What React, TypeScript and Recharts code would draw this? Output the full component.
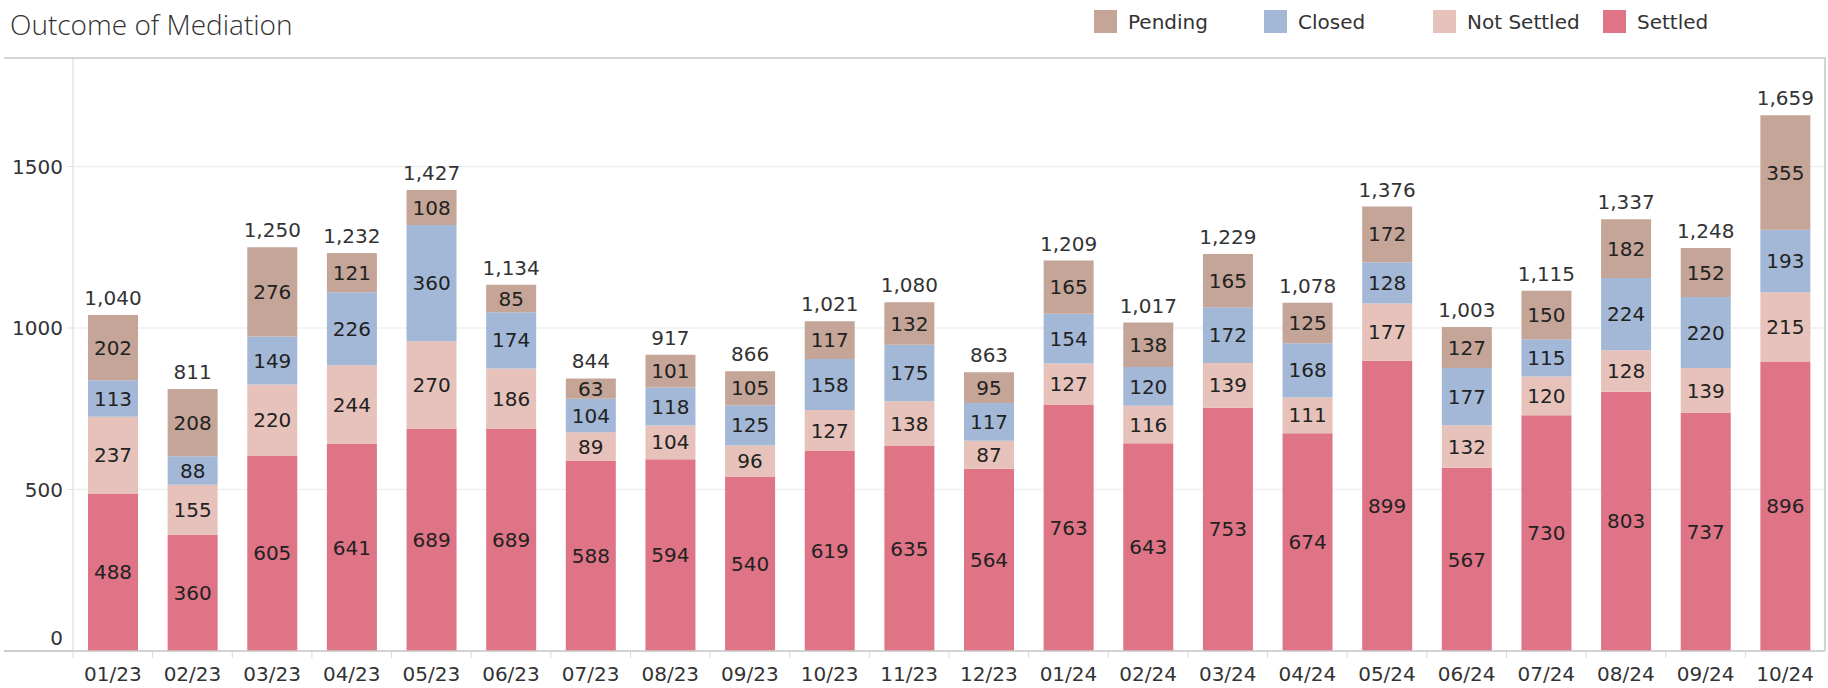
import React from 'react';
import { BarChart, Bar, XAxis, YAxis, CartesianGrid, LabelList } from 'recharts';

const months = ['01/23', '02/23', '03/23', '04/23', '05/23', '06/23', '07/23', '08/23', '09/23', '10/23', '11/23', '12/23',
  '01/24', '02/24', '03/24', '04/24', '05/24', '06/24', '07/24', '08/24', '09/24', '10/24'];
const settled = [488, 360, 605, 641, 689, 689, 588, 594, 540, 619, 635, 564, 763, 643, 753, 674, 899, 567, 730, 803, 737, 896];
const notSettled = [237, 155, 220, 244, 270, 186, 89, 104, 96, 127, 138, 87, 127, 116, 139, 111, 177, 132, 120, 128, 139, 215];
const closed = [113, 88, 149, 226, 360, 174, 104, 118, 125, 158, 175, 117, 154, 120, 172, 168, 128, 177, 115, 224, 220, 193];
const pending = [202, 208, 276, 121, 108, 85, 63, 101, 105, 117, 132, 95, 165, 138, 165, 125, 172, 127, 150, 182, 152, 355];
const totals = [1040, 811, 1250, 1232, 1427, 1134, 844, 917, 866, 1021, 1080, 863, 1209, 1017, 1229, 1078, 1376, 1003, 1115, 1337, 1248, 1659];
const yTicks = [0, 500, 1000, 1500];
const yMax = 1836;

const seriesNames = { pending: 'Pending', closed: 'Closed', notSettled: 'Not Settled', settled: 'Settled' };
const legendOrder = ['pending', 'closed', 'notSettled', 'settled'];

const COLORS: Record<string, string> = {
  pending: '#C5A597',
  closed: '#A3B8D7',
  notSettled: '#E6C2BA',
  settled: '#E07487',
};
const legendX = [1094, 1264, 1433, 1603];

const data = months.map((m, i) => ({
  month: m,
  settled: settled[i],
  notSettled: notSettled[i],
  closed: closed[i],
  pending: pending[i],
  total: totals[i],
}));

const W = 1828;
const H = 688;
const PLOT_LEFT = 73;
const PLOT_RIGHT = 1825;
const PLOT_TOP = 58;
const PLOT_BOTTOM = 651;
const FONT = '"DejaVu Sans", sans-serif';
const TEXT = '#333333';

const XTick = (props: any) => {
  const { x, payload } = props;
  const half = (PLOT_RIGHT - PLOT_LEFT) / months.length / 2;
  return (
    <g>
      <line x1={x - half} x2={x - half} y1={PLOT_BOTTOM} y2={PLOT_BOTTOM + 7} stroke="#d9d9d9" strokeWidth={1} />
      <text x={x} y={PLOT_BOTTOM + 16} dy="0.71em" textAnchor="middle" fill={TEXT} fontSize={20} fontFamily={FONT}>
        {payload.value}
      </text>
    </g>
  );
};

const YTick = (props: any) => {
  const { x, y, payload } = props;
  const shift = payload.value === 0 ? -13 : 0;
  return (
    <text x={x} y={y + shift} dy="0.355em" textAnchor="end" fill={TEXT} fontSize={20} fontFamily={FONT}>
      {payload.value}
    </text>
  );
};

const fmt = (v: any) => Number(v).toLocaleString('en-US');

export default function App() {
  return (
    <div style={{ position: 'absolute', left: 0, top: 0, width: W, height: H, background: '#fff', overflow: 'hidden' }}>
      <div
        style={{
          position: 'absolute', left: 10, top: 4, fontFamily: '"Open Sans", sans-serif', fontWeight: 300,
          fontSize: 28, color: '#333', lineHeight: '40px', whiteSpace: 'nowrap',
        }}
      >
        Outcome of Mediation
      </div>
      {legendOrder.map((k, i) => (
        <div key={k} style={{ position: 'absolute', left: legendX[i], top: 10, height: 23, display: 'flex', alignItems: 'center' }}>
          <div style={{ width: 23, height: 23, background: COLORS[k] }} />
          <span style={{ marginLeft: 11, fontFamily: FONT, fontSize: 20, color: TEXT, whiteSpace: 'nowrap' }}>
            {(seriesNames as any)[k]}
          </span>
        </div>
      ))}
      <div style={{ position: 'absolute', left: 0, top: 0 }}>
        <BarChart width={W} height={H} data={data} margin={{ top: PLOT_TOP, right: W - PLOT_RIGHT, left: 0, bottom: 0 }}>
          <CartesianGrid horizontal vertical={false} stroke="#efefef" strokeWidth={1.5} />
          <XAxis
            dataKey="month"
            height={H - PLOT_BOTTOM}
            tickLine={false}
            axisLine={{ stroke: '#c8c8c8', strokeWidth: 1.5 }}
            tick={<XTick />}
            interval={0}
          />
          <YAxis
            width={PLOT_LEFT}
            domain={[0, yMax]}
            ticks={yTicks}
            tickSize={6}
            tickMargin={4}
            tickLine={{ stroke: '#e4e4e4' }}
            axisLine={{ stroke: '#d6d6d6' }}
            tick={<YTick />}
            allowDataOverflow
          />
          <Bar dataKey="settled" stackId="a" fill={COLORS.settled} barSize={50} isAnimationActive={false}>
            <LabelList dataKey="settled" position="center" fill="#222" fontSize={20} fontFamily={FONT} />
          </Bar>
          <Bar dataKey="notSettled" stackId="a" fill={COLORS.notSettled} barSize={50} isAnimationActive={false}>
            <LabelList dataKey="notSettled" position="center" fill="#222" fontSize={20} fontFamily={FONT} />
          </Bar>
          <Bar dataKey="closed" stackId="a" fill={COLORS.closed} barSize={50} isAnimationActive={false}>
            <LabelList dataKey="closed" position="center" fill="#222" fontSize={20} fontFamily={FONT} />
          </Bar>
          <Bar dataKey="pending" stackId="a" fill={COLORS.pending} barSize={50} isAnimationActive={false}>
            <LabelList dataKey="pending" position="center" fill="#222" fontSize={20} fontFamily={FONT} />
            <LabelList dataKey="total" position="top" offset={10} fill={TEXT} fontSize={20} fontFamily={FONT} formatter={fmt} />
          </Bar>
        </BarChart>
      </div>
      <div style={{ position: 'absolute', left: 4, top: PLOT_TOP - 1, width: PLOT_RIGHT - 4 + 1, height: 2, background: '#d4d4d4' }} />
      <div style={{ position: 'absolute', left: PLOT_RIGHT - 1, top: PLOT_TOP - 1, width: 2, height: PLOT_BOTTOM - PLOT_TOP + 1, background: '#d4d4d4' }} />
      <div style={{ position: 'absolute', left: 4, top: PLOT_BOTTOM - 1, width: PLOT_LEFT - 4, height: 2, background: '#cdcdcd' }} />
    </div>
  );
}
